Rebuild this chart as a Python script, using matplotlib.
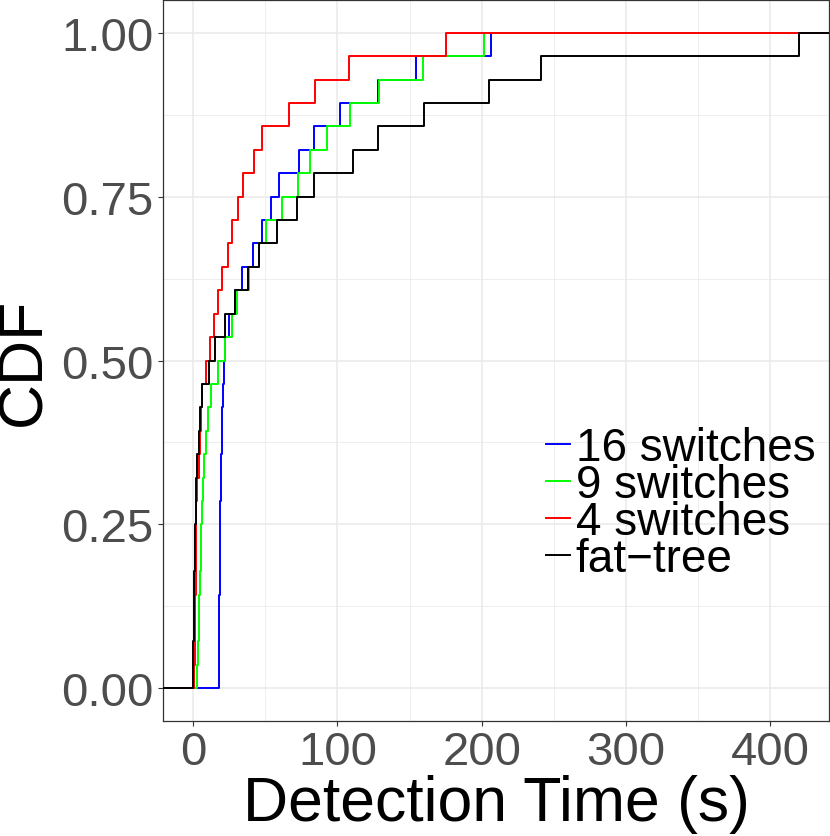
import numpy as np
import matplotlib
matplotlib.use('Agg')
import matplotlib.pyplot as plt

plt.rcParams['font.family'] = ['Liberation Sans', 'DejaVu Sans']

# detection times (s), 28 trials per topology
series_names = ['16 switches', '9 switches', '4 switches', 'fat\u2212tree']
series_colors = ['#0000FF', '#00FF00', '#FF0000', '#000000']

t_16 = [17.8, 17.9, 18.0, 18.1, 18.3, 18.4, 18.6, 18.8, 19.0, 19.3,
        19.8, 20.3, 21.0, 21.5, 22.4, 25.0, 28.9, 33.7, 41.5, 47.5,
        54.0, 59.6, 73.4, 83.8, 101.6, 128.1, 154.7, 206.2]
t_9 = [3.0, 3.5, 4.0, 4.4, 4.8, 5.2, 5.5, 6.3, 7.0, 7.8,
       8.8, 10.0, 12.5, 17.5, 22.4, 26.6, 30.7, 38.6, 45.5, 50.5,
       61.5, 72.7, 80.8, 93.1, 109.0, 128.9, 159.3, 201.3]
t_4 = [0.8, 1.1, 1.3, 1.5, 1.7, 1.8, 1.9, 2.3, 3.0, 4.0,
       4.6, 5.5, 6.3, 8.7, 11.8, 14.8, 17.5, 20.1, 24.3, 27.2,
       31.2, 34.6, 42.0, 47.8, 66.5, 84.3, 107.8, 175.0]
t_fat = [0.1, 0.2, 0.3, 0.5, 0.7, 1.0, 1.4, 1.9, 2.3, 3.0,
         4.0, 4.6, 6.3, 10.9, 15.0, 22.0, 28.9, 38.1, 45.5, 58.4,
         72.2, 83.6, 110.8, 128.1, 159.8, 205.0, 240.8, 419.7]
series_data = [t_16, t_9, t_4, t_fat]

x_ticks = [0, 100, 200, 300, 400]
y_ticks = [0.0, 0.25, 0.5, 0.75, 1.0]
y_tick_labels = ['0.00', '0.25', '0.50', '0.75', '1.00']

TICK_GREY = '#4D4D4D'
GRID = '#EBEBEB'

fig = plt.figure(figsize=(8.3, 8.37), dpi=100)
ax = fig.add_axes([0.1964, 0.1374, 0.8024, 0.8614])

all_vals = np.concatenate([np.asarray(s) for s in series_data])
lo, hi = all_vals.min(), all_vals.max()
pad = 0.05 * (hi - lo)

for name, color, vals in zip(series_names, series_colors, series_data):
    v = np.sort(np.asarray(vals))
    n = len(v)
    xs = np.concatenate([[lo - 10 * pad], v, [hi + 10 * pad]])
    ys = np.concatenate([[0.0], np.arange(1, n + 1) / n, [1.0]])
    ax.step(xs, ys, where='post', color=color, linewidth=1.4, label=name,
            zorder=3)

ax.set_xlim(lo - pad, hi + pad)
ax.set_ylim(-0.05, 1.05)

ax.set_xticks(x_ticks)
ax.set_xticks([50, 150, 250, 350], minor=True)
ax.set_yticks(y_ticks)
ax.set_yticklabels(y_tick_labels)
ax.set_yticks([0.125, 0.375, 0.625, 0.875], minor=True)
ax.grid(which='major', color=GRID, linewidth=1.2, zorder=0)
ax.grid(which='minor', color=GRID, linewidth=0.6, zorder=0)
ax.set_axisbelow(True)

ax.tick_params(which='major', length=3.6, width=0.8, color='#333333',
               labelsize=34, labelcolor=TICK_GREY, pad=3)
ax.tick_params(which='minor', length=0)
for s in ax.spines.values():
    s.set_color('#333333')
    s.set_linewidth(0.9)

ax.set_xlabel('Detection Time (s)', fontsize=45, labelpad=0)
ax.set_ylabel('CDF', fontsize=45, labelpad=6)

leg = ax.legend(loc='upper left', bbox_to_anchor=(0.575, 0.409),
                frameon=False, fontsize=33, handlelength=0.52,
                handletextpad=0.13, labelspacing=-0.15, borderpad=0,
                borderaxespad=0)

fig.savefig('out.png', dpi=100, facecolor='white')
